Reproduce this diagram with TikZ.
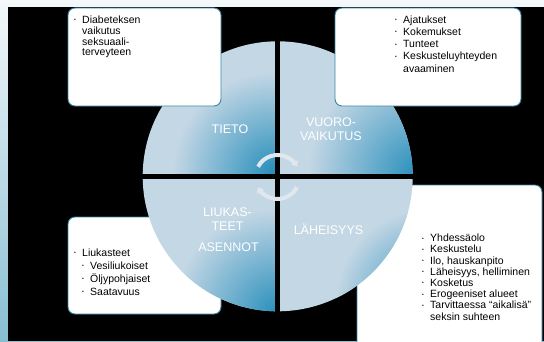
\documentclass[tikz,border=0pt]{standalone}
\usepackage{fontspec}
\setmainfont{Liberation Sans}
\usetikzlibrary{arrows.meta}

\definecolor{quadlight}{RGB}{196,215,229}
\definecolor{quaddark}{RGB}{40,143,187}
\definecolor{boxline}{RGB}{52,135,163}
\definecolor{arrowgrey}{RGB}{224,232,237}
\definecolor{bgtop}{RGB}{244,248,250}
\definecolor{bgbottom}{RGB}{135,190,210}

\newcommand{\bul}{\makebox[8pt][l]{\raisebox{1.6pt}{\tiny\textbullet}}}

\tikzset{
    listbox/.style={draw=boxline,line width=0.9pt,fill=white,rounded corners=7pt},
    listtext/.style={anchor=base west,inner sep=0pt,align=left},
    quadlabel/.style={text=white,align=center,inner sep=0pt,font=\fontsize{12.5}{14}\selectfont},
    cyclearrow/.style={line width=4pt,draw=arrowgrey,-{Triangle[width=8pt,length=5pt]}}
}

\begin{document}
\begin{tikzpicture}[x=1pt,y=1pt]
        \useasboundingbox (0,0) rectangle (544,341);
        \shade[top color=bgtop,bottom color=bgbottom] (0,0) rectangle (544,341);
        \fill[black] (8,0) rectangle (544,334);

        \draw[listbox] (68,27) rectangle (221,124);
        \draw[listbox] (357,-20) rectangle (542,156);

        \coordinate (C) at (277.7,164.7);
        \begin{scope}
            \clip (C) -- ++(180:135pt) arc[start angle=180,end angle=90,radius=135pt] -- cycle;
            \fill[quadlight] (C) circle (136pt);
            \shade[inner color=quaddark,outer color=quadlight] (273,169) circle (100pt);
        \end{scope}
        \begin{scope}
            \clip (C) -- ++(90:135pt) arc[start angle=90,end angle=0,radius=135pt] -- cycle;
            \fill[quadlight] (C) circle (136pt);
            \shade[inner color=quaddark,outer color=quadlight] (418,168) circle (110pt);
        \end{scope}
        \begin{scope}
            \clip (C) -- ++(0:135pt) arc[start angle=0,end angle=-90,radius=135pt] -- cycle;
            \fill[quadlight] (C) circle (136pt);
            \shade[inner color=quaddark,outer color=quadlight] (428,40) circle (92pt);
        \end{scope}
        \begin{scope}
            \clip (C) -- ++(-90:135pt) arc[start angle=-90,end angle=-180,radius=135pt] -- cycle;
            \fill[quadlight] (C) circle (136pt);
            \shade[inner color=quaddark,outer color=quadlight] (278,28) circle (105pt);
        \end{scope}
        \draw[line width=4.5pt] ([xshift=-137pt]C) -- ([xshift=137pt]C);
        \draw[line width=4.5pt] ([yshift=-137pt]C) -- ([yshift=137pt]C);

        \draw[listbox] (68,235) rectangle (221,333);
        \draw[listbox] (335,235) rectangle (521,333);

        \coordinate (A) at (277.5,164);
        \draw[cyclearrow] (A) ++(152:22pt) arc[start angle=152,end angle=28,radius=22pt];
        \draw[cyclearrow] (A) ++(-28:22pt) arc[start angle=-28,end angle=-152,radius=22pt];

        \node[quadlabel] (tieto) at (230,212) {TIETO};
        \node[quadlabel] (vuoro) at (331,211.5) {VUORO-\\VAIKUTUS};
        \node[quadlabel] (liukas) at (227.5,121.5) {LIUKAS-\\TEET};
        \node[quadlabel] (asennot) at (228.5,94) {ASENNOT};
        \node[quadlabel] (laheisyys) at (328.5,112) {LÄHEISYYS};

        \node[listtext,font=\fontsize{10.5}{10.8}\selectfont] (tietolist) at (74,285.1)
            {\bul Diabeteksen\\\hspace*{8pt}vaikutus\\\hspace*{8pt}seksuaali-\\\hspace*{8pt}terveyteen};
        \node[listtext,font=\fontsize{10.5}{12.3}\selectfont] (vuorolist) at (395,268.8)
            {\bul Ajatukset\\\bul Kokemukset\\\bul Tunteet\\\bul Keskusteluyhteyden\\\hspace*{8pt}avaaminen};
        \node[listtext,font=\fontsize{10.5}{13}\selectfont] (liukaslist) at (74,46)
            {\bul Liukasteet\\\hspace*{8pt}\bul Vesiliukoiset\\\hspace*{8pt}\bul Öljypohjaiset\\\hspace*{8pt}\bul Saatavuus};
        \node[listtext,font=\fontsize{10.5}{11.2}\selectfont] (laheisyyslist) at (422,20.9)
            {\bul Yhdessäolo\\\bul Keskustelu\\\bul Ilo, hauskanpito\\\bul Läheisyys, helliminen\\\bul Kosketus\\\bul Erogeeniset alueet\\\bul Tarvittaessa “aikalisä”\\\hspace*{8pt}seksin suhteen};
\end{tikzpicture}
\end{document}
